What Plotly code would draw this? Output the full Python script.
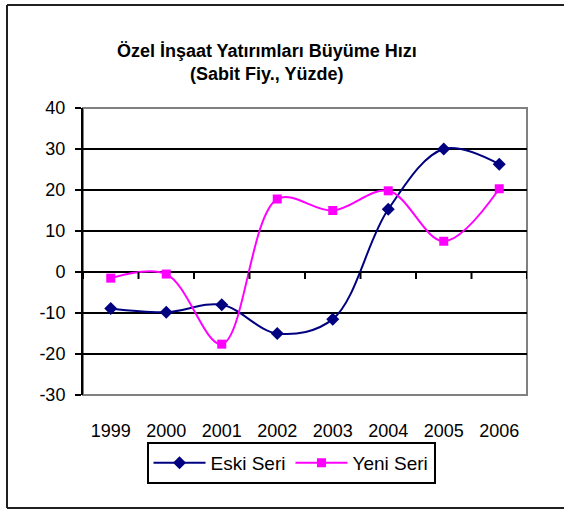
import plotly.graph_objects as go

years = ["1999", "2000", "2001", "2002", "2003", "2004", "2005", "2006"]
eski_seri = [-8.9, -9.8, -8.0, -15.0, -11.5, 15.3, 30.0, 26.3]
yeni_seri = [-1.5, -0.5, -17.6, 17.8, 15.0, 19.8, 7.5, 20.3]
y_ticks = [-30, -20, -10, 0, 10, 20, 30, 40]
y_tick_labels = ["-30", "-20", "-10", "0", "10", "20", "30", "40"]

W, H = 564, 510
L, R, T, B = 83, 37, 108, 115
pw, ph = W - L - R, H - T - B

FONT = "Liberation Sans, Arial, sans-serif"

fig = go.Figure()
fig.add_trace(go.Scatter(
    x=years, y=eski_seri, name="Eski Seri", mode="lines+markers",
    line=dict(color="#000080", width=2, shape="spline", smoothing=1.0),
    marker=dict(symbol="diamond", size=10, color="#000080"),
))
fig.add_trace(go.Scatter(
    x=years, y=yeni_seri, name="Yeni Seri", mode="lines+markers",
    line=dict(color="#FF00FF", width=2, shape="spline", smoothing=1.0),
    marker=dict(symbol="square", size=9, color="#FF00FF"),
))

def px_x(p):
    return (p - L) / pw
def px_y(p):
    return (H - B - p) / ph

shapes = []
# plot area border (grey)
shapes.append(dict(type="rect", xref="paper", yref="paper", x0=0, x1=1, y0=0, y1=1,
                   line=dict(color="#808080", width=2), layer="below"))
# x-axis tick marks on zero line at category boundaries
for i in range(len(years) + 1):
    shapes.append(dict(type="line", xref="x", yref="y", x0=i - 0.5, x1=i - 0.5,
                       y0=0, y1=-1.7, line=dict(color="black", width=2)))
# outer chart border (left, top, bottom; right edge lies beyond the view)
bx0, bx1, by0, by1 = px_x(7), px_x(570), px_y(508), px_y(5)
for (xa, ya, xb, yb) in [(bx0, by0, bx0, by1), (bx0, by1, bx1, by1), (bx0, by0, bx1, by0)]:
    shapes.append(dict(type="line", xref="paper", yref="paper",
                       x0=xa, y0=ya, x1=xb, y1=yb,
                       line=dict(color="#202020", width=2)))

fig.update_layout(
    width=W, height=H,
    margin=dict(l=L, r=R, t=T, b=B),
    paper_bgcolor="white", plot_bgcolor="white",
    font=dict(family=FONT, size=18, color="black"),
    title=dict(text="<b>Özel İnşaat Yatırımları Büyüme Hızı<br>(Sabit Fiy., Yüzde)</b>",
               x=0.473, xref="container", xanchor="center",
               y=1 - 57 / H, yref="container", yanchor="middle",
               font=dict(family=FONT, size=18, color="black")),
    xaxis=dict(type="category", range=[-0.5, len(years) - 0.5],
               showgrid=False, zeroline=False, showline=False,
               ticks="outside", ticklen=19, tickcolor="rgba(0,0,0,0)",
               tickfont=dict(size=18)),
    yaxis=dict(range=[-30, 40], tickvals=y_ticks, ticktext=y_tick_labels,
               showgrid=True, gridcolor="black", gridwidth=2,
               zeroline=True, zerolinecolor="black", zerolinewidth=2,
               showline=True, linecolor="black", linewidth=2,
               ticks="outside", ticklen=6, tickwidth=2, tickcolor="black",
               ticklabelstandoff=6, tickfont=dict(size=18)),
    showlegend=True,
    legend=dict(orientation="h", x=px_x(291), xanchor="center",
                y=px_y(442), yanchor="top",
                bordercolor="black", borderwidth=2, bgcolor="white",
                font=dict(size=19), itemwidth=52, tracegroupgap=0),
    shapes=shapes,
)

fig.write_html(
    "out.html", config={"displayModeBar": False},
    post_script=("document.documentElement.style.margin='0';"
                 "document.documentElement.style.overflow='hidden';"
                 "document.body.style.margin='0';"
                 "document.body.style.overflow='hidden';"))
